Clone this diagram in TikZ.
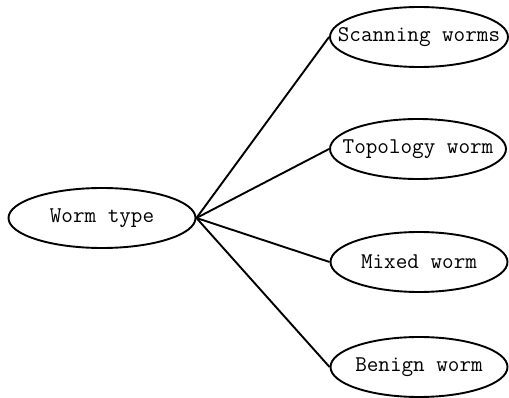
\documentclass[tikz,border=0pt]{standalone}
\usetikzlibrary{shapes.geometric}
\begin{document}
\begin{tikzpicture}[x=1pt,y=-1pt,
  oval/.style={ellipse,draw,line width=1.9pt,minimum width=#1,minimum height=60pt,inner sep=0pt,font=\ttfamily\fontsize{22.5}{26}\selectfont},
  conn/.style={line width=1.9pt}]
\useasboundingbox (0,0) rectangle (509,398);
\node[oval=187pt] (wt) at (102,218) {\makebox[0pt]{Worm type}};
\node[oval=178pt] (sw) at (419,37) {\makebox[0pt]{Scanning worms}};
\node[oval=176pt] (tw) at (418,149) {\makebox[0pt]{Topology worm}};
\node[oval=177pt] (mw) at (419,262) {\makebox[0pt]{Mixed worm}};
\node[oval=177pt] (bw) at (419,367) {\makebox[0pt]{Benign worm}};
\draw[conn] (wt.east) -- (sw.west);
\draw[conn] (wt.east) -- (tw.west);
\draw[conn] (wt.east) -- (mw.west);
\draw[conn] (wt.east) -- (bw.west);
\end{tikzpicture}
\end{document}
